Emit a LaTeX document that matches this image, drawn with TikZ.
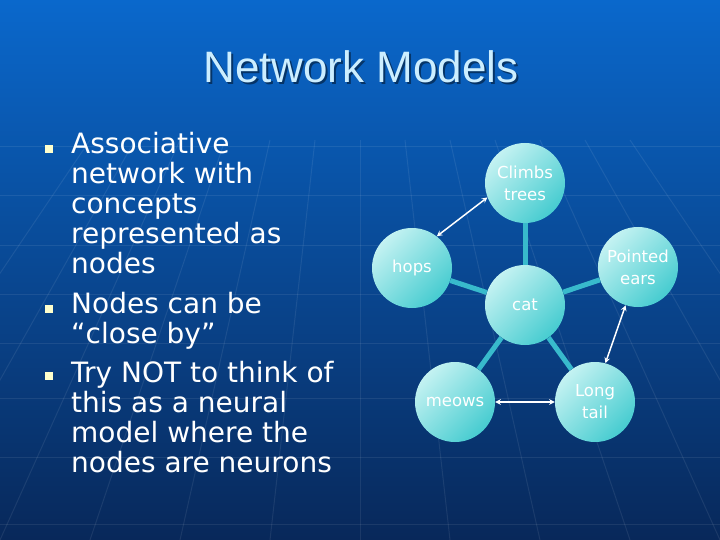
\documentclass[tikz,border=0pt]{standalone}
\usepackage{fontspec}
\setmainfont{DejaVu Sans}
\newfontfamily\titlefont{Liberation Sans}
\usepackage{xcolor}
\definecolor{bgtop}{RGB}{10,104,204}
\definecolor{bgmid}{RGB}{10,72,158}
\definecolor{bgbot}{RGB}{8,40,90}
\definecolor{titlecol}{RGB}{204,238,255}
\definecolor{bulletcol}{RGB}{255,255,204}
\definecolor{cyanlight}{RGB}{196,242,242}
\definecolor{cyandark}{RGB}{70,204,208}
\definecolor{linkcol}{RGB}{56,186,204}

\begin{document}
\begin{tikzpicture}[x=1pt,y=-1pt,>=stealth,
  concept/.style={circle,minimum size=80pt,inner sep=0pt,align=center,text=white,
    top color=cyanlight,bottom color=cyandark,shading angle=45,
    font=\fontsize{16.5}{22}\selectfont},
  link/.style={linkcol,line width=5pt},
  assoc/.style={<->,white,line width=1.5pt},
  bullet/.style={fill=bulletcol,minimum size=8pt,inner sep=0pt},
  item/.style={anchor=base west,align=left,inner sep=0pt,text=white,
    font=\fontsize{28}{29.8}\selectfont},
  gridline/.style={white,opacity=.08,line width=1pt}]
  \useasboundingbox (0,0) rectangle (720,540);
  \shade[top color=bgtop,middle color=bgmid,bottom color=bgbot] (0,0) rectangle (720,540);
  % faint globe grid behind the slide
  \foreach \y in {147,196,245,294,343,398,457,524}
    \draw[gridline] (0,\y) -- (720,\y);
  \foreach \x in {-180,-90,...,900}
    \draw[gridline] ({360+0.5*(\x-360)},140) -- (\x,540);
  % title
  \node[anchor=base,text=black,opacity=.45,font=\titlefont\fontsize{44}{50}\selectfont]
    at (363,85) {Network Models};
  \node (title)[anchor=base,text=titlecol,font=\titlefont\fontsize{44}{50}\selectfont]
    at (361,83) {Network Models};
  % bullet list (base = last line)
  \node[bullet] (sq1) at (49,149) {};
  \node[item] (b1) at (71,273) {Associative\\network with\\concepts\\represented as\\nodes};
  \node[bullet] (sq2) at (49,309) {};
  \node[item] (b2) at (71,343) {Nodes can be\\“close by”};
  \node[bullet] (sq3) at (49,376) {};
  \node[item] (b3) at (71,472) {Try NOT to think of\\this as a neural\\model where the\\nodes are neurons};
  % concept network
  \node[concept] (climbs) at (525,183) {Climbs\\trees};
  \node[concept] (hops)   at (412,268) {hops};
  \node[concept] (ears)   at (638,267) {Pointed\\ears};
  \node[concept] (cat)    at (525,305) {cat};
  \node[concept] (meows)  at (455,402) {meows};
  \node[concept] (tail)   at (595,402) {Long\\tail};
  \foreach \n in {climbs,hops,ears,meows,tail}
    \draw[link] (cat) -- (\n);
  \draw[assoc] (hops.52) -- (climbs.201);
  \draw[assoc] (ears.252) -- (tail.75);
  \draw[assoc] (meows) -- (tail);
\end{tikzpicture}
\end{document}
